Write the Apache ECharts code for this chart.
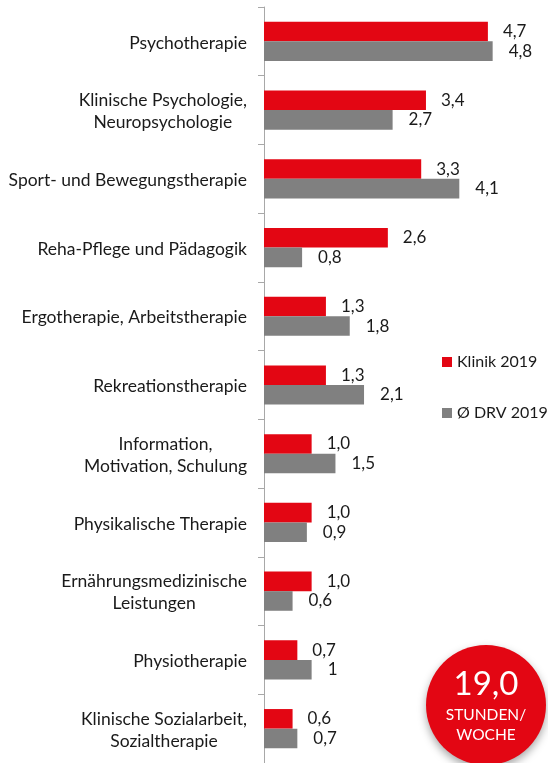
<!DOCTYPE html>
<html>
<head>
<meta charset="utf-8">
<script src="https://cdn.jsdelivr.net/npm/echarts@6/dist/echarts.min.js"></script>
<style>
  html, body { margin: 0; padding: 0; background: #fff; }
  #chart { width: 548px; height: 763px; }
</style>
</head>
<body>
<div id="chart"></div>
<script>
// Kategorien (von oben nach unten)
const categories = [
  'Psychotherapie',
  'Klinische Psychologie,\nNeuropsychologie',
  'Sport- und Bewegungstherapie',
  'Reha-Pflege und Pädagogik',
  'Ergotherapie, Arbeitstherapie',
  'Rekreationstherapie',
  'Information,\nMotivation, Schulung',
  'Physikalische Therapie',
  'Ernährungsmedizinische\nLeistungen',
  'Physiotherapie',
  'Klinische Sozialarbeit,\nSozialtherapie'
]
const klinik2019 = [4.7, 3.4, 3.3, 2.6, 1.3, 1.3, 1.0, 1.0, 1.0, 0.7, 0.6]
const drv2019 = [4.8, 2.7, 4.1, 0.8, 1.8, 2.1, 1.5, 0.9, 0.6, 1, 0.7]
const total = '19,0'

const font = 'Lato'
const red = '#e30613'
const gray = '#808080'
const txt = '#1a1a1a'

let chart = echarts.init(document.getElementById('chart'))
var option = {
  animation: false,
  textStyle: { fontFamily: font },
  grid: { left: 264, right: 22, top: 7, bottom: -4, containLabel: false },
  legend: {
    orient: 'vertical',
    left: 437,
    top: 349,
    itemGap: 35,
    itemWidth: 10,
    itemHeight: 10,
    icon: 'rect',
    textStyle: { fontFamily: font, fontSize: 16, color: txt },
    data: ['Klinik 2019', 'Ø DRV 2019']
  },
  xAxis: {
    type: 'value',
    min: 0,
    max: 5.5,
    show: false,
    splitLine: { show: false }
  },
  yAxis: {
    type: 'category',
    inverse: true,
    data: categories,
    axisLine: { show: true, lineStyle: { color: '#a8a8a8', width: 1 } },
    axisTick: { show: true, length: 6, lineStyle: { color: '#a8a8a8' } },
    axisLabel: {
      margin: 17,
      fontFamily: font,
      fontSize: 17.5,
      color: txt,
      lineHeight: 22,
      formatter: (v) => v.split('\n').map(s => '{a|' + s + '}').join('\n'),
      rich: { a: { align: 'center', fontFamily: font, fontSize: 17.5, color: txt, lineHeight: 22, padding: [3, 0, 0, 0] } }
    }
  },
  series: [{
    name: 'Klinik 2019',
    type: 'bar',
    data: klinik2019,
    barGap: '0%',
    barCategoryGap: '43%',
    itemStyle: { color: red },
    label: {
      show: true,
      position: 'right',
      distance: 15,
      fontFamily: font,
      fontSize: 17,
      color: txt,
      formatter: (p) => p.value.toFixed(1).replace('.', ',')
    }
  }, {
    name: 'Ø DRV 2019',
    type: 'bar',
    data: drv2019,
    itemStyle: { color: gray },
    label: {
      show: true,
      position: 'right',
      distance: 16,
      fontFamily: font,
      fontSize: 17,
      color: txt,
      formatter: (p) => String(p.value).replace('.', ',')
    }
  }],
  graphic: [{
    type: 'circle',
    shape: { cx: 486, cy: 705, r: 60 },
    style: { fill: red, shadowBlur: 8, shadowOffsetY: 4, shadowColor: 'rgba(0,0,0,0.35)' }
  }, {
    type: 'text',
    x: 486, y: 684,
    style: { text: total, fill: '#fff', font: '33px ' + font, align: 'center', verticalAlign: 'middle' }
  }, {
    type: 'text',
    x: 486, y: 715,
    style: { text: 'STUNDEN/', fill: '#fff', font: '15.5px ' + font, align: 'center', verticalAlign: 'middle' }
  }, {
    type: 'text',
    x: 486, y: 735,
    style: { text: 'WOCHE', fill: '#fff', font: '15.5px ' + font, align: 'center', verticalAlign: 'middle' }
  }]
}
chart.setOption(option)
</script>
</body>
</html>
